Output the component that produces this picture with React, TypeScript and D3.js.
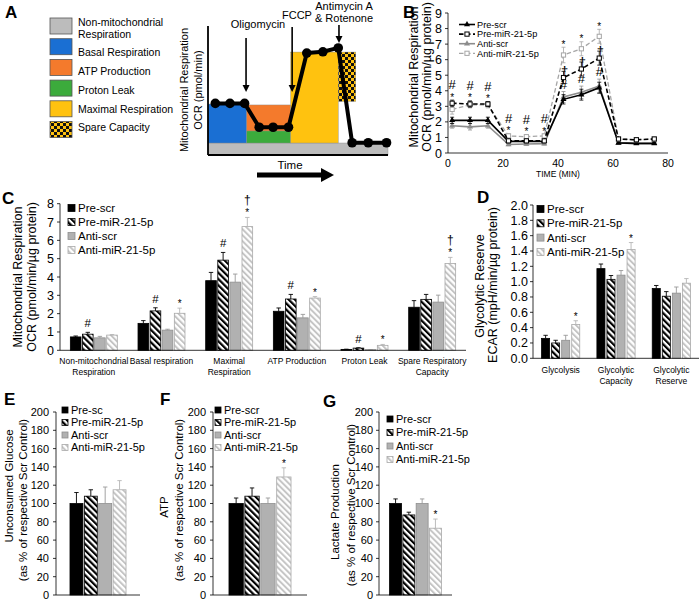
import React from "react";
import * as d3 from "d3";

const FONT = "'Liberation Sans', Arial, Helvetica, sans-serif";

// ---------- Panel A (schematic) ----------
const legendLabelsA = ["Non-mitochondrial\nRespiration", "Basal Respiration", "ATP Production", "Proton Leak", "Maximal Respiration", "Spare Capacity"];
const legendColorsA = ["#bcbcbc", "#1a6fd3", "#f47a2c", "#3cab3c", "#ffc20f", "url(#checker)"];
const schematicTime = [0.5, 1.5, 2.5, 3.5, 4.45, 5.5, 6.75, 7.85, 8.9, 9.85, 10.95, 12.2];
const schematicOCR = [4, 4, 4, 2.15, 2.15, 2.15, 7.9, 8, 8.3, 0.95, 0.95, 0.95];
const phaseX0 = [0, 0, 2.65, 2.65, 5.65, 8.9];
const phaseX1 = [12.3, 2.65, 5.65, 5.65, 8.9, 10.1];
const phaseY0 = [0, 0.93, 1.86, 0.93, 0.93, 4.15];
const phaseY1 = [0.93, 3.95, 3.88, 1.86, 7.98, 7.98];
const injections = ["Oligomycin", "FCCP", "Antimycin A\n& Rotenone"];
const injectionTime = [2.6, 5.75, 8.95];
const injectionTop = [9.07, 9.92, 10.08];
const injectionBottom = [4.88, 4.88, 8.68];

// ---------- Panel B ----------
const seriesNames = ["Pre-scr", "Pre-miR-21-5p", "Anti-scr", "Anti-miR-21-5p"];
const timesB = [1.5, 8, 14.5, 22, 28.5, 35, 42, 48.5, 55, 62, 68.5, 75];
const preScrB = [2.1, 2.1, 2.1, 0.75, 0.75, 0.75, 3.45, 3.75, 4.2, 0.65, 0.62, 0.62];
const preMirB = [3.2, 3.15, 3.15, 0.78, 0.78, 0.78, 4.85, 5.4, 6.1, 0.9, 0.85, 0.9];
const antiScrB = [1.75, 1.68, 1.75, 0.55, 0.58, 0.6, 3.6, 3.9, 4.3, 0.65, 0.6, 0.6];
const antiMirB = [2.8, 3.1, 3.1, 1.1, 1.05, 1.1, 6.3, 6.7, 7.5, 0.9, 0.85, 0.9];
const preScrBErr = [0.2, 0.2, 0.2, 0.08, 0.08, 0.08, 0.3, 0.35, 0.35, 0.05, 0.05, 0.05];
const preMirBErr = [0.2, 0.2, 0.15, 0.1, 0.1, 0.1, 0.4, 0.45, 0.45, 0.08, 0.06, 0.06];
const antiScrBErr = [0.15, 0.2, 0.15, 0.08, 0.08, 0.08, 0.35, 0.4, 0.45, 0.05, 0.05, 0.05];
const antiMirBErr = [0.3, 0.2, 0.2, 0.15, 0.12, 0.12, 0.5, 0.45, 0.45, 0.08, 0.06, 0.06];
const starB = [0, 1, 2, 3, 4, 5, 6, 7, 8];
const hashB = [0, 1, 2, 3, 4, 5, 6, 7, 8];
const daggerB = [6, 7, 8];
const yTicksB = [0, 1, 2, 3, 4, 5, 6, 7, 8, 9];
const xTicksB = [0, 20, 40, 60, 80];

// ---------- Panel C ----------
const groupsC = ["Non-mitochondrial\nRespiration", "Basal respiration", "Maximal\nRespiration", "ATP Production", "Proton Leak", "Spare Respiratory\nCapacity"];
const preScrC = [0.73, 1.47, 3.8, 2.13, 0.05, 2.35];
const preMirC = [0.88, 2.15, 4.92, 2.8, 0.12, 2.78];
const antiScrC = [0.68, 1.1, 3.72, 1.77, 0.03, 2.63];
const antiMirC = [0.83, 2.02, 6.75, 2.85, 0.27, 4.74];
const preScrCErr = [0.05, 0.15, 0.45, 0.18, 0.01, 0.36];
const preMirCErr = [0.1, 0.17, 0.42, 0.25, 0.02, 0.27];
const antiScrCErr = [0.08, 0.05, 0.44, 0.19, 0.01, 0.38];
const antiMirCErr = [0.03, 0.28, 0.5, 0.08, 0.05, 0.33];
const sigC = [
  ["", "", "", "", "", ""],
  ["#", "#", "#", "#", "#", ""],
  ["", "", "", "", "", ""],
  ["", "*", "*†", "*", "*", "*†"],
];
const yTicksC = [0, 1, 2, 3, 4, 5, 6, 7, 8];

// ---------- Panel D ----------
const groupsD = ["Glycolysis", "Glycolytic\nCapacity", "Glycolytic\nReserve"];
const preScrD = [0.26, 1.17, 0.91];
const preMirD = [0.2, 1.03, 0.81];
const antiScrD = [0.235, 1.085, 0.85];
const antiMirD = [0.44, 1.42, 0.98];
const preScrDErr = [0.04, 0.06, 0.04];
const preMirDErr = [0.035, 0.05, 0.06];
const antiScrDErr = [0.065, 0.06, 0.08];
const antiMirDErr = [0.05, 0.09, 0.06];
const sigD = [["", "", ""], ["", "", ""], ["", "", ""], ["*", "*", ""]];
const yTicksD = [0, 0.2, 0.4, 0.6, 0.8, 1.0, 1.2, 1.4, 1.6, 1.8, 2.0];

// ---------- Panels E, F, G ----------
const seriesNamesE = ["Pre-sc", "Pre-miR-21-5p", "Anti-scr", "Anti-miR-21-5p"];
const glucoseE = [100, 108, 100, 115];
const glucoseEErr = [12, 7, 18, 10];
const atpF = [100, 108, 100, 129];
const atpFErr = [6, 9, 6, 10];
const lactateG = [100, 87.5, 100, 73];
const lactateGErr = [5, 3, 5, 10];
const sigE = [[""], [""], [""], [""]];
const sigF = [[""], [""], [""], ["*"]];
const sigG = [[""], [""], [""], ["*"]];
const yTicksEFG = [0, 20, 40, 60, 80, 100, 120, 140, 160, 180, 200];

const barFill = ["#000", "url(#hatchBlack)", "#b1b1b1", "url(#hatchGray)"];
const barStroke = ["#000", "#000", "#8f8f8f", "#a9a9a9"];
const errColor = ["#000", "#000", "#999", "#b5b5b5"];

function Lines({ text, x, y, dy, anchor = "middle", size, weight = "normal" }: any) {
  const parts = text.split("\n");
  return (
    <text x={x} y={y} textAnchor={anchor} fontSize={size} fontWeight={weight} fontFamily={FONT} fill="#000">
      {parts.map((p: string, i: number) => (
        <tspan key={i} x={x} dy={i === 0 ? 0 : dy}>{p}</tspan>
      ))}
    </text>
  );
}

function RotLabel({ x, y, text, size }: any) {
  return (
    <text transform={`translate(${x},${y}) rotate(-90)`} textAnchor="middle" dominantBaseline="central" fontSize={size} fontFamily={FONT} fill="#000">
      {text}
    </text>
  );
}

function Defs() {
  return (
    <defs>
      <pattern id="hatchBlack" patternUnits="userSpaceOnUse" width="4.4" height="4.4" patternTransform="rotate(-45)">
        <rect width="4.4" height="4.4" fill="#fff" />
        <line x1="1.1" y1="0" x2="1.1" y2="4.4" stroke="#000" strokeWidth="2.2" />
      </pattern>
      <pattern id="hatchGray" patternUnits="userSpaceOnUse" width="4.2" height="4.2" patternTransform="rotate(-45)">
        <rect width="4.2" height="4.2" fill="#fff" />
        <line x1="1" y1="0" x2="1" y2="4.2" stroke="#c2c2c2" strokeWidth="1.9" />
      </pattern>
      <pattern id="checker" patternUnits="userSpaceOnUse" width="6" height="6">
        <rect width="6" height="6" fill="#ffc20f" />
        <rect width="3" height="3" fill="#111" />
        <rect x="3" y="3" width="3" height="3" fill="#111" />
      </pattern>
    </defs>
  );
}

function PanelA() {
  const x = d3.scaleLinear().domain([0, 12.3]).range([208, 388]);
  const y = d3.scaleLinear().domain([0, 10]).range([155, 26]);
  const phaseOrder = [0, 1, 2, 3, 4, 5];
  const line = d3.line<number>().x((_, i) => x(schematicTime[i])).y((d) => y(d));
  const legendTextY = [[26, 38], [56], [75], [94], [113], [131]];
  return (
    <g>
      <text x={5} y={18} fontSize={17} fontWeight="bold" fontFamily={FONT}>A</text>
      {legendLabelsA.map((lab, i) => (
        <g key={i}>
          <rect x={50} y={18 + i * 20.7} width={22} height={16} fill={legendColorsA[i]} stroke="#555" strokeWidth={0.8} />
          {lab.split("\n").map((p, j) => (
            <text key={j} x={78} y={legendTextY[i][j]} fontSize={10.5} fontFamily={FONT}>{p}</text>
          ))}
        </g>
      ))}
      {phaseOrder.map((i) => (
        <rect key={i} x={x(phaseX0[i])} y={y(phaseY1[i])} width={x(phaseX1[i]) - x(phaseX0[i])} height={y(phaseY0[i]) - y(phaseY1[i])}
          fill={legendColorsA[i]} stroke="#888" strokeWidth={0.4} />
      ))}
      <line x1={x(0)} y1={y(0)} x2={x(0)} y2={y(10)} stroke="#000" strokeWidth={1.8} />
      <line x1={x(0)} y1={y(0)} x2={x(12.3)} y2={y(0)} stroke="#000" strokeWidth={1.8} />
      <path d={line(schematicOCR) || ""} fill="none" stroke="#000" strokeWidth={4} strokeLinejoin="round" />
      {schematicOCR.map((v, i) => (
        <circle key={i} cx={x(schematicTime[i])} cy={y(v)} r={4.8} fill="#000" />
      ))}
      {injections.map((lab, i) => {
        const xi = x(injectionTime[i]);
        const yt = y(injectionTop[i]);
        const yb = y(injectionBottom[i]);
        return (
          <g key={i}>
            <line x1={xi} y1={yt} x2={xi} y2={yb - 6} stroke="#000" strokeWidth={1.6} />
            <path d={`M${xi - 3.5},${yb - 7} L${xi + 3.5},${yb - 7} L${xi},${yb} Z`} fill="#000" />
          </g>
        );
      })}
      <text x={258} y={28} textAnchor="middle" fontSize={11} fontFamily={FONT}>{injections[0]}</text>
      <text x={297} y={19} textAnchor="middle" fontSize={11} fontFamily={FONT}>{injections[1]}</text>
      <Lines text={injections[2]} x={344} y={10} dy={12} size={11} />
      <RotLabel x={184} y={90} text="Mitochondrial Respiration" size={11} />
      <RotLabel x={198} y={90} text="OCR (pmol/min)" size={11} />
      <text x={290} y={169} textAnchor="middle" fontSize={11.5} fontFamily={FONT}>Time</text>
      <line x1={257} y1={175} x2={323} y2={175} stroke="#000" strokeWidth={5} />
      <path d="M321,168 L334,175 L321,182 Z" fill="#000" />
    </g>
  );
}

function PanelB() {
  const x = d3.scaleLinear().domain([0, 80]).range([448, 668]);
  const y = d3.scaleLinear().domain([0, 9]).range([153, 13]);
  const data = [preScrB, preMirB, antiScrB, antiMirB];
  const errs = [preScrBErr, preMirBErr, antiScrBErr, antiMirBErr];
  const color = ["#000", "#000", "#8c8c8c", "#a6a6a6"];
  const dash = [undefined, "4.5,2.5", undefined, "4.5,2.5"];
  const width = [1.6, 1.6, 1.6, 1.3];
  const line = d3.line<number>().x((_, i) => x(timesB[i])).y((d) => y(d));
  const tri = d3.symbol(d3.symbolTriangle, 16)() || "";
  const order = [2, 0, 3, 1];
  const marker = (s: number, cx: number, cy: number, key: any) =>
    s === 0 || s === 2 ? (
      <path key={key} d={tri} transform={`translate(${cx},${cy})`} fill={color[s]} />
    ) : (
      <rect key={key} x={cx - 2.1} y={cy - 2.1} width={4.2} height={4.2} fill="#fff" stroke={color[s]} strokeWidth={1} />
    );
  return (
    <g>
      <text x={403} y={18} fontSize={17} fontWeight="bold" fontFamily={FONT}>B</text>
      <line x1={x(0)} y1={y(0)} x2={x(0)} y2={y(9)} stroke="#000" strokeWidth={0.8} />
      <line x1={x(0)} y1={y(0)} x2={x(80)} y2={y(0)} stroke="#000" strokeWidth={0.8} />
      {yTicksB.map((t) => (
        <g key={t}>
          <line x1={x(0) - 3} x2={x(0)} y1={y(t)} y2={y(t)} stroke="#000" strokeWidth={0.8} />
          <text x={x(0) - 6} y={y(t)} dy="0.36em" textAnchor="end" fontSize={12.5} fontFamily={FONT}>{t}</text>
        </g>
      ))}
      {xTicksB.map((t) => (
        <text key={t} x={x(t)} y={167} textAnchor="middle" fontSize={10.5} fontFamily={FONT}>{t}</text>
      ))}
      <text x={x(40)} y={177} textAnchor="middle" fontSize={8.5} fontFamily={FONT}>TIME (MIN)</text>
      <RotLabel x={414} y={77} text="Mitochondrial Respiration" size={12.5} />
      <RotLabel x={427} y={77} text="OCR (pmol/min/µg protein)" size={12.5} />
      {order.map((s) => (
        <g key={s}>
          {data[s].map((v, i) => (
            <g key={i} stroke={color[s]} strokeWidth={0.8}>
              <line x1={x(timesB[i])} x2={x(timesB[i])} y1={y(v - errs[s][i])} y2={y(v + errs[s][i])} />
              <line x1={x(timesB[i]) - 2} x2={x(timesB[i]) + 2} y1={y(v + errs[s][i])} y2={y(v + errs[s][i])} />
              <line x1={x(timesB[i]) - 2} x2={x(timesB[i]) + 2} y1={y(v - errs[s][i])} y2={y(v - errs[s][i])} />
            </g>
          ))}
          <path d={line(data[s]) || ""} fill="none" stroke={color[s]} strokeWidth={width[s]} strokeDasharray={dash[s]} />
          {data[s].map((v, i) => marker(s, x(timesB[i]), y(v), i))}
        </g>
      ))}
      {starB.map((i) => {
        const top = i < 6 ? Math.max(preMirB[i] + preMirBErr[i], antiMirB[i] + antiMirBErr[i]) : antiMirB[i] + antiMirBErr[i];
        return <text key={"s" + i} x={x(timesB[i])} y={y(top) + 0.5} textAnchor="middle" fontSize={10} fontFamily={FONT} fill="#000">*</text>;
      })}
      {hashB.map((i) => {
        let yy;
        if (i < 6) {
          const top = Math.max(preMirB[i] + preMirBErr[i], antiMirB[i] + antiMirBErr[i]);
          yy = y(top) - 11;
        } else {
          const top = Math.max(preScrB[i] + preScrBErr[i], antiScrB[i] + antiScrBErr[i]);
          yy = y(top) - 3;
        }
        return <text key={"h" + i} x={x(timesB[i])} y={yy} textAnchor="middle" fontSize={13} fontFamily={FONT} fill="#000">#</text>;
      })}
      {daggerB.map((i) => (
        <text key={"d" + i} x={x(timesB[i]) + 1} y={y(preMirB[i]) - 3} textAnchor="middle" fontSize={13} fontFamily={FONT} fill="#000">†</text>
      ))}
      {seriesNames.map((n, s) => {
        const cy = 24.5 + s * 9.6;
        return (
          <g key={n}>
            <line x1={459} x2={475} y1={cy} y2={cy} stroke={color[s]} strokeWidth={width[s]} strokeDasharray={dash[s]} />
            {marker(s, 467, cy, "m")}
            <text x={477} y={cy + 3.2} fontSize={9.2} fontFamily={FONT}>{n}</text>
          </g>
        );
      })}
    </g>
  );
}

function BarPanel(p: any) {
  const { groups, values, errors, sigs, x0, x1, yBottom, yTop, yMax, yTicks, fmt, clusterFrac, innerPad,
    tickFont, groupFont, groupY, tickGap } = p;
  const xg = d3.scaleBand<string>().domain(groups).range([x0, x1]);
  const bw = xg.bandwidth();
  const cw = bw * clusterFrac;
  const xs = d3.scaleBand<number>().domain([0, 1, 2, 3]).range([(bw - cw) / 2, (bw + cw) / 2]).paddingInner(innerPad);
  const y = d3.scaleLinear().domain([0, yMax]).range([yBottom, yTop]);
  return (
    <g>
      {values.map((arr: number[], s: number) =>
        arr.map((v: number, g: number) => {
          const bx = (xg(groups[g]) as number) + (xs(s) as number);
          const w = xs.bandwidth();
          const cx = bx + w / 2;
          const top = y(v + errors[s][g]);
          const sig = sigs[s][g] as string;
          const starY = top - 1;
          return (
            <g key={s + "-" + g}>
              <rect x={bx} y={y(v)} width={w} height={Math.max(0.5, yBottom - y(v))} fill={barFill[s]} stroke={barStroke[s]} strokeWidth={0.8} />
              <line x1={cx} x2={cx} y1={y(v)} y2={top} stroke={errColor[s]} strokeWidth={0.9} />
              <line x1={cx - 2.2} x2={cx + 2.2} y1={top} y2={top} stroke={errColor[s]} strokeWidth={0.9} />
              {sig.includes("#") && (
                <text x={cx} y={top - 5} textAnchor="middle" fontSize={11.5} fontFamily={FONT} fill="#000">#</text>
              )}
              {sig.includes("*") && (
                <text x={cx} y={starY} textAnchor="middle" fontSize={10} fontFamily={FONT} fill="#000">*</text>
              )}
              {sig.includes("†") && (
                <text x={cx} y={starY - 12} textAnchor="middle" fontSize={12} fontFamily={FONT} fill="#000">†</text>
              )}
            </g>
          );
        })
      )}
      <line x1={x0} x2={x0} y1={yBottom} y2={yTop} stroke="#000" strokeWidth={0.8} />
      <line x1={x0} x2={x1} y1={yBottom} y2={yBottom} stroke="#000" strokeWidth={0.8} />
      {yTicks.map((t: number) => (
        <g key={t}>
          <line x1={x0 - 3} x2={x0} y1={y(t)} y2={y(t)} stroke="#000" strokeWidth={0.8} />
          <text x={x0 - tickGap} y={y(t)} dy="0.36em" textAnchor="end" fontSize={tickFont} fontFamily={FONT}>{fmt(t)}</text>
        </g>
      ))}
      {groups.map((g: string) =>
        g ? (
          <Lines key={g} text={g} x={(xg(g) as number) + bw / 2} y={groupY} dy={groupFont * 1.25} size={groupFont} />
        ) : null
      )}
    </g>
  );
}

function Legend({ names, x, y0, step, size, box }: any) {
  return (
    <g>
      {names.map((n: string, s: number) => {
        const cy = y0 + s * step;
        return (
          <g key={n}>
            <rect x={x} y={cy - box / 2} width={box} height={box} fill={barFill[s]} stroke={barStroke[s]} strokeWidth={0.8} />
            <text x={x + box + 3} y={cy} dy="0.36em" fontSize={size} fontFamily={FONT}>{n}</text>
          </g>
        );
      })}
    </g>
  );
}

export default function App() {
  const fmt0 = (t: number) => String(t);
  const fmt1 = (t: number) => t.toFixed(1);
  return (
    <svg width={699} height={603} style={{ position: "absolute", left: 0, top: 0, background: "#fff" }} fontFamily={FONT}>
      <Defs />
      <rect width={699} height={603} fill="#fff" />
      <PanelA />
      <PanelB />

      {/* Panel C */}
      <text x={2} y={204} fontSize={17} fontWeight="bold" fontFamily={FONT}>C</text>
      <BarPanel groups={groupsC} values={[preScrC, preMirC, antiScrC, antiMirC]} errors={[preScrCErr, preMirCErr, antiScrCErr, antiMirCErr]}
        sigs={sigC} x0={60} x1={466} yBottom={350.3} yTop={203.7} yMax={8} yTicks={yTicksC} fmt={fmt0}
        clusterFrac={0.694} innerPad={0.12} tickFont={12.5} groupFont={8.5} groupY={364} tickGap={6} />
      <Legend names={seriesNames} x={68} y0={208} step={14} size={11.5} box={7} />
      <RotLabel x={18} y={277} text="Mitochondrial Respiration" size={12.5} />
      <RotLabel x={32} y={277} text="OCR (pmol/min/µg protein)" size={12.5} />

      {/* Panel D */}
      <text x={477} y={203} fontSize={17} fontWeight="bold" fontFamily={FONT}>D</text>
      <BarPanel groups={groupsD} values={[preScrD, preMirD, antiScrD, antiMirD]} errors={[preScrDErr, preMirDErr, antiScrDErr, antiMirDErr]}
        sigs={sigD} x0={533} x1={699} yBottom={358.3} yTop={205} yMax={2} yTicks={yTicksD} fmt={fmt1}
        clusterFrac={0.69} innerPad={0.2} tickFont={12.5} groupFont={8.5} groupY={373} tickGap={5} />
      <Legend names={seriesNames} x={537} y0={209} step={14.3} size={11.5} box={7} />
      <RotLabel x={480} y={286} text="Glycolytic Reserve" size={12.5} />
      <RotLabel x={493} y={285} text="ECAR (mpH/min/µg protein)" size={12.5} />

      {/* Panel E */}
      <text x={4} y={405} fontSize={17} fontWeight="bold" fontFamily={FONT}>E</text>
      <BarPanel groups={[""]} values={[[glucoseE[0]], [glucoseE[1]], [glucoseE[2]], [glucoseE[3]]]}
        errors={[[glucoseEErr[0]], [glucoseEErr[1]], [glucoseEErr[2]], [glucoseEErr[3]]]}
        sigs={sigE} x0={56} x1={140} yBottom={595} yTop={412} yMax={200} yTicks={yTicksEFG} fmt={fmt0}
        clusterFrac={0.667} innerPad={0.1} tickFont={11} groupFont={9} groupY={0} tickGap={7} />
      <Legend names={seriesNamesE} x={62} y0={410} step={12.5} size={11} box={6} />
      <RotLabel x={9} y={486} text="Unconsumed Glucose" size={11.5} />
      <RotLabel x={23} y={500} text="(as % of respective Scr Control)" size={11.5} />

      {/* Panel F */}
      <text x={160} y={405} fontSize={17} fontWeight="bold" fontFamily={FONT}>F</text>
      <BarPanel groups={[""]} values={[[atpF[0]], [atpF[1]], [atpF[2]], [atpF[3]]]}
        errors={[[atpFErr[0]], [atpFErr[1]], [atpFErr[2]], [atpFErr[3]]]}
        sigs={sigF} x0={213} x1={307} yBottom={595} yTop={412} yMax={200} yTicks={yTicksEFG} fmt={fmt0}
        clusterFrac={0.66} innerPad={0.1} tickFont={11} groupFont={9} groupY={0} tickGap={7} />
      <Legend names={seriesNames} x={215} y0={410} step={12.5} size={11} box={6} />
      <RotLabel x={164} y={507} text="ATP" size={11.5} />
      <RotLabel x={179} y={500} text="(as % of respective Scr Control)" size={11.5} />

      {/* Panel G */}
      <text x={323} y={407} fontSize={17} fontWeight="bold" fontFamily={FONT}>G</text>
      <BarPanel groups={[""]} values={[[lactateG[0]], [lactateG[1]], [lactateG[2]], [lactateG[3]]]}
        errors={[[lactateGErr[0]], [lactateGErr[1]], [lactateGErr[2]], [lactateGErr[3]]]}
        sigs={sigG} x0={379} x1={452} yBottom={595} yTop={412} yMax={200} yTicks={yTicksEFG} fmt={fmt0}
        clusterFrac={0.71} innerPad={0.1} tickFont={11} groupFont={9} groupY={0} tickGap={6} />
      <Legend names={seriesNames} x={387} y0={419} step={13.5} size={11} box={6} />
      <RotLabel x={335} y={512} text="Lactate Production" size={11.5} />
      <RotLabel x={351} y={505} text="(as % of respective Scr Control)" size={11.5} />
    </svg>
  );
}
